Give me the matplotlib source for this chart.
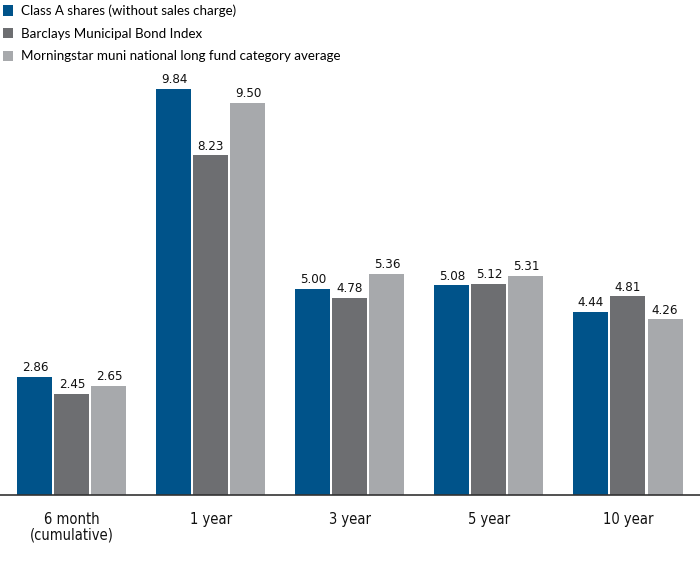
import matplotlib
matplotlib.use("Agg")
import matplotlib.pyplot as plt
import numpy as np

categories = ["6 month\n(cumulative)", "1 year", "3 year", "5 year", "10 year"]
series_names = ["Class A shares (without sales charge)",
                "Barclays Municipal Bond Index",
                "Morningstar muni national long fund category average"]
class_a = [2.86, 9.84, 5.00, 5.08, 4.44]
barclays = [2.45, 8.23, 4.78, 5.12, 4.81]
morningstar = [2.65, 9.50, 5.36, 5.31, 4.26]
colors = ["#00538a", "#6d6e71", "#a7a9ac"]

plt.rcParams['font.family'] = ['DejaVu Sans']

fig = plt.figure(figsize=(7.0, 5.74), dpi=100)
ax = fig.add_axes([0, 79/574, 1, 495/574])

x = np.arange(len(categories))
w = 35/139
off = 37/139
for vals, c, name, o in zip([class_a, barclays, morningstar], colors, series_names, [-off, 0, off]):
    bars = ax.bar(x + o, vals, width=w, color=c, label=name)
    for b, v in zip(bars, vals):
        ax.text(b.get_x() + b.get_width()/2, v + 0.06, f"{v:.2f}", ha='center', va='bottom',
                fontsize=9.5, fontstretch='condensed', color='#111111')

ax.set_xlim(-72/139, (700-72)/139)
ax.set_ylim(0, 495/41.3)
ax.set_xticks(x)
ax.set_xticklabels(categories, fontsize=10.5, fontstretch='condensed', linespacing=1.1,
                   color='#111111')
ax.tick_params(axis='x', length=0, pad=12)
ax.set_yticks([])
for s in ['top', 'right', 'left']:
    ax.spines[s].set_visible(False)
ax.spines['bottom'].set_color('#333333')
ax.spines['bottom'].set_linewidth(1.2)

leg = fig.legend(loc='upper left', bbox_to_anchor=(0.004, 0.992), frameon=False,
                 prop={'family': 'Lato', 'size': 9.6}, handlelength=0.78, handleheight=0.78,
                 handletextpad=0.6, labelspacing=0.8, borderaxespad=0, borderpad=0.0)

fig.savefig("out.png", dpi=100)
